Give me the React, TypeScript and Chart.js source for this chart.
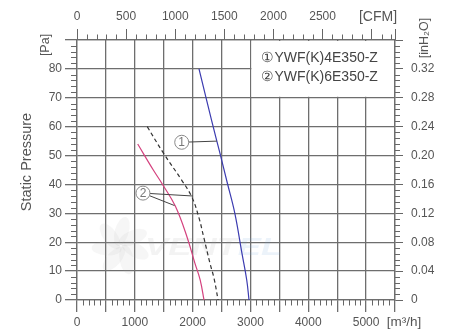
import React, { useEffect, useRef } from "react";
import { Chart, registerables } from "chart.js";

Chart.register(...registerables);

// ---------------- data ----------------
const FLOW_MAX = 5500; // m³/h
const PRESSURE_MAX = 90; // Pa
const M3H_PER_CFM = 1.699;
const INH2O_PER_PA = 0.004;

const flowTicks = [0, 500, 1000, 1500, 2000, 2500, 3000, 3500, 4000, 4500, 5000, 5500];
const flowLabels = ["0", "", "1000", "", "2000", "", "3000", "", "4000", "", "5000", ""];
const cfmTicks = [0, 500, 1000, 1500, 2000, 2500, 3000];
const cfmLabels = ["0", "500", "1000", "1500", "2000", "2500", "", ""];
const pressureTicks = [0, 10, 20, 30, 40, 50, 60, 70, 80, 90];
const pressureLabels = ["0", "10", "20", "30", "40", "50", "60", "70", "80", ""];
const inh2oLabels = ["0", "0.04", "0.08", "0.12", "0.16", "0.20", "0.24", "0.28", "0.32", ""];

const seriesNames = ["①YWF(K)4E350-Z", "②YWF(K)6E350-Z"];

const fan1Flow = [2110, 2330, 2470, 2600, 2730, 2850, 2935, 2975];
const fan1Pressure = [80, 62, 51, 40.5, 30, 16.5, 7, 0];

const fan2DashedFlow = [1215, 1490, 1810, 1990, 2110, 2190, 2300, 2370, 2440];
const fan2DashedPressure = [60, 51, 41.5, 35.5, 28.4, 21.9, 12.7, 7.5, 0];

const fan2SolidFlow = [1050, 1320, 1480, 1700, 1900, 2040, 2130, 2197];
const fan2SolidPressure = [54, 45, 40, 32.5, 22, 12.7, 7, 0];

// callouts (circled numbers with leader lines)
const calloutText = ["1", "2"];
const calloutFlow = [1811, 1141];
const calloutPressure = [54.6, 37];
const calloutTargetFlow = [[2420], [2005, 1686]];
const calloutTargetPressure = [[55], [36, 32.7]];

// legend box corner in data units
const legendBoxFlow = 3000;
const legendBoxPressure = 70;

const FONT = "'Liberation Sans', Arial, sans-serif";
const TEXT = "#555";
const GRID = "#6e6e6e";

function pts(xs: number[], ys: number[]) {
  return xs.map((x, i) => ({ x, y: ys[i] }));
}

const extras = {
  id: "fanExtras",
  beforeDatasetsDraw(chart: any) {
    const { ctx, chartArea: a, scales } = chart;
    const x = scales.x, y = scales.y, x2 = scales.x2, y2 = scales.y2;
    ctx.save();

    // watermark (faint)
    const cx = a.left + 44, cy = a.top + 206;
    ctx.fillStyle = "rgba(170,170,170,0.10)";
    for (let k = 0; k < 7; k++) {
      ctx.save();
      ctx.translate(cx, cy);
      ctx.rotate((k * 2 * Math.PI) / 7);
      ctx.beginPath();
      ctx.ellipse(14, 4, 15, 7, 0.5, 0, Math.PI * 2);
      ctx.fill();
      ctx.restore();
    }
    ctx.save();
    ctx.translate(a.left + 68, cy + 9);
    ctx.scale(1.45, 1);
    ctx.font = `italic bold 24px ${FONT}`;
    ctx.textBaseline = "alphabetic";
    ctx.fillStyle = "rgba(160,160,160,0.13)";
    ctx.fillText("VENT", 0, 0);
    const w = ctx.measureText("VENT").width;
    ctx.fillStyle = "rgba(120,170,220,0.14)";
    ctx.fillText("EL", w, 0);
    ctx.restore();

    // legend box (white, hides grid)
    const bx = x.getPixelForValue(legendBoxFlow);
    const by = y.getPixelForValue(legendBoxPressure);
    ctx.fillStyle = "#fff";
    ctx.fillRect(bx + 1, a.top + 1, a.right - bx - 2, by - a.top - 2);

    // minor ticks
    ctx.strokeStyle = "#666";
    ctx.lineWidth = 1;
    const line = (x1: number, y1: number, xx: number, yy: number) => {
      ctx.beginPath();
      ctx.moveTo(x1, y1);
      ctx.lineTo(xx, yy);
      ctx.stroke();
    };
    for (let v = 100; v < FLOW_MAX; v += 100) {
      if (v % 500 === 0) continue;
      const px = Math.round(x.getPixelForValue(v)) + 0.5;
      line(px, a.bottom, px, a.bottom + 5.5);
    }
    for (let v = 100; v < FLOW_MAX / M3H_PER_CFM; v += 100) {
      if (v % 500 === 0) continue;
      const px = Math.round(x2.getPixelForValue(v)) + 0.5;
      line(px, a.top, px, a.top - 5.5);
    }
    for (let v = 2; v < PRESSURE_MAX; v += 2) {
      if (v % 10 === 0) continue;
      const py = Math.round(y.getPixelForValue(v)) + 0.5;
      line(a.left, py, a.left - 6, py);
      const py2 = Math.round(y2.getPixelForValue(v * INH2O_PER_PA)) + 0.5;
      line(a.right, py2, a.right + 5, py2);
    }
    ctx.restore();
  },
  afterDatasetsDraw(chart: any) {
    const { ctx, chartArea: a, scales } = chart;
    const x = scales.x, y = scales.y;
    ctx.save();

    // legend text
    const bx = x.getPixelForValue(legendBoxFlow);
    const by = y.getPixelForValue(legendBoxPressure);
    ctx.font = `14px ${FONT}`;
    ctx.fillStyle = "#444";
    ctx.textBaseline = "middle";
    ctx.textAlign = "left";
    const h = by - a.top;
    seriesNames.forEach((n, i) => ctx.fillText(n, bx + 11, a.top + h * (0.31 + 0.33 * i)));

    // callouts
    calloutText.forEach((t, i) => {
      const cx = x.getPixelForValue(calloutFlow[i]);
      const cy = y.getPixelForValue(calloutPressure[i]);
      const r = 7;
      ctx.strokeStyle = "#444";
      ctx.lineWidth = 1;
      calloutTargetFlow[i].forEach((tf, j) => {
        const tx = x.getPixelForValue(tf);
        const ty = y.getPixelForValue(calloutTargetPressure[i][j]);
        const ang = Math.atan2(ty - cy, tx - cx);
        ctx.beginPath();
        ctx.moveTo(cx + r * Math.cos(ang), cy + r * Math.sin(ang));
        ctx.lineTo(tx, ty);
        ctx.stroke();
      });
      ctx.beginPath();
      ctx.arc(cx, cy, r, 0, Math.PI * 2);
      ctx.fillStyle = "#fff";
      ctx.fill();
      ctx.strokeStyle = "#8a8a8a";
      ctx.stroke();
      ctx.fillStyle = "#777";
      ctx.font = `12px ${FONT}`;
      ctx.textAlign = "center";
      ctx.textBaseline = "middle";
      ctx.fillText(t, cx, cy + 0.5);
    });

    // unit labels & title
    ctx.fillStyle = TEXT;
    ctx.textAlign = "center";
    ctx.textBaseline = "middle";
    ctx.font = `14px ${FONT}`;
    ctx.fillText("[CFM]", a.right - 17, a.top - 23);
    ctx.font = `13.5px ${FONT}`;
    ctx.fillText("[m³/h]", a.right + 9, a.bottom + 22);

    const rot = (txt: string, px: number, py: number, font: string) => {
      ctx.save();
      ctx.translate(px, py);
      ctx.rotate(-Math.PI / 2);
      ctx.font = font;
      ctx.fillText(txt, 0, 0);
      ctx.restore();
    };
    rot("[Pa]", a.left - 31, a.top + 5, `12.5px ${FONT}`);
    rot("[inH₂O]", a.right + 30, a.top - 2, `12.5px ${FONT}`);
    rot("Static Pressure", a.left - 50, (a.top + a.bottom) / 2 - 8, `14.5px ${FONT}`);
    ctx.restore();
  },
};

export default function App() {
  const ref = useRef<HTMLCanvasElement | null>(null);

  useEffect(() => {
    if (!ref.current) return;
    const tickFont = { family: FONT, size: 12 };
    const lineBase = {
      borderWidth: 1.2,
      pointRadius: 0,
      tension: 0.4,
      cubicInterpolationMode: "default",
      fill: false,
      xAxisID: "x",
      yAxisID: "y",
    };
    const chart = new Chart(ref.current, {
      type: "line",
      data: {
        datasets: [
          { ...lineBase, label: seriesNames[0], data: pts(fan1Flow, fan1Pressure), borderColor: "#3b3bb0" },
          {
            ...lineBase,
            label: seriesNames[1] + " (a)",
            data: pts(fan2DashedFlow, fan2DashedPressure),
            borderColor: "#333",
            borderDash: [4, 3],
          },
          {
            ...lineBase,
            label: seriesNames[1] + " (b)",
            data: pts(fan2SolidFlow, fan2SolidPressure),
            borderColor: "#d4417e",
          },
        ],
      },
      options: {
        responsive: false,
        maintainAspectRatio: false,
        animation: false,
        devicePixelRatio: 1,
        layout: { padding: 0 },
        plugins: { legend: { display: false }, tooltip: { enabled: false } },
        scales: {
          x: {
            type: "linear",
            position: "bottom",
            min: 0,
            max: FLOW_MAX,
            afterBuildTicks: (s: any) => {
              s.ticks = flowTicks.map((value) => ({ value }));
            },
            afterFit: (s: any) => {
              s.height = 35;
            },
            ticks: {
              autoSkip: false,
              maxRotation: 0,
              minRotation: 0,
              padding: 3,
              color: TEXT,
              font: tickFont,
              callback: (_v: any, i: number) => flowLabels[i] ?? "",
            },
            grid: { color: GRID, lineWidth: 1.3, tickLength: 12 },
            border: { display: true, color: GRID, width: 1.3 },
          },
          x2: {
            type: "linear",
            position: "top",
            min: 0,
            max: FLOW_MAX / M3H_PER_CFM,
            afterBuildTicks: (s: any) => {
              s.ticks = [...cfmTicks, FLOW_MAX / M3H_PER_CFM].map((value) => ({ value }));
            },
            afterFit: (s: any) => {
              s.height = 40;
            },
            ticks: {
              autoSkip: false,
              maxRotation: 0,
              minRotation: 0,
              padding: 5,
              color: TEXT,
              font: tickFont,
              callback: (_v: any, i: number) => cfmLabels[i] ?? "",
            },
            grid: { drawOnChartArea: false, color: "#666", lineWidth: 1, tickLength: 11 },
            border: { display: true, color: GRID, width: 1.3 },
          },
          y: {
            type: "linear",
            position: "left",
            min: 0,
            max: PRESSURE_MAX,
            afterBuildTicks: (s: any) => {
              s.ticks = pressureTicks.map((value) => ({ value }));
            },
            afterFit: (s: any) => {
              s.width = 77;
            },
            ticks: {
              autoSkip: false,
              padding: 3,
              color: TEXT,
              font: tickFont,
              callback: (_v: any, i: number) => pressureLabels[i] ?? "",
            },
            grid: { color: GRID, lineWidth: 1.3, tickLength: 12 },
            border: { display: true, color: GRID, width: 1.3 },
          },
          y2: {
            type: "linear",
            position: "right",
            min: 0,
            max: PRESSURE_MAX * INH2O_PER_PA,
            afterBuildTicks: (s: any) => {
              s.ticks = pressureTicks.map((p) => ({ value: p * INH2O_PER_PA }));
            },
            afterFit: (s: any) => {
              s.width = 62;
            },
            ticks: {
              autoSkip: false,
              padding: 8,
              color: TEXT,
              font: tickFont,
              callback: (_v: any, i: number) => inh2oLabels[i] ?? "",
            },
            grid: { drawOnChartArea: false, color: "#666", lineWidth: 1, tickLength: 8 },
            border: { display: true, color: GRID, width: 1.3 },
          },
        },
      },
      plugins: [extras],
    } as any);
    return () => chart.destroy();
  }, []);

  return (
    <div style={{ position: "fixed", left: 0, top: 0, width: 457, height: 335, background: "#fff" }}>
      <canvas ref={ref} width={457} height={335} style={{ display: "block", width: 457, height: 335 }} />
    </div>
  );
}
